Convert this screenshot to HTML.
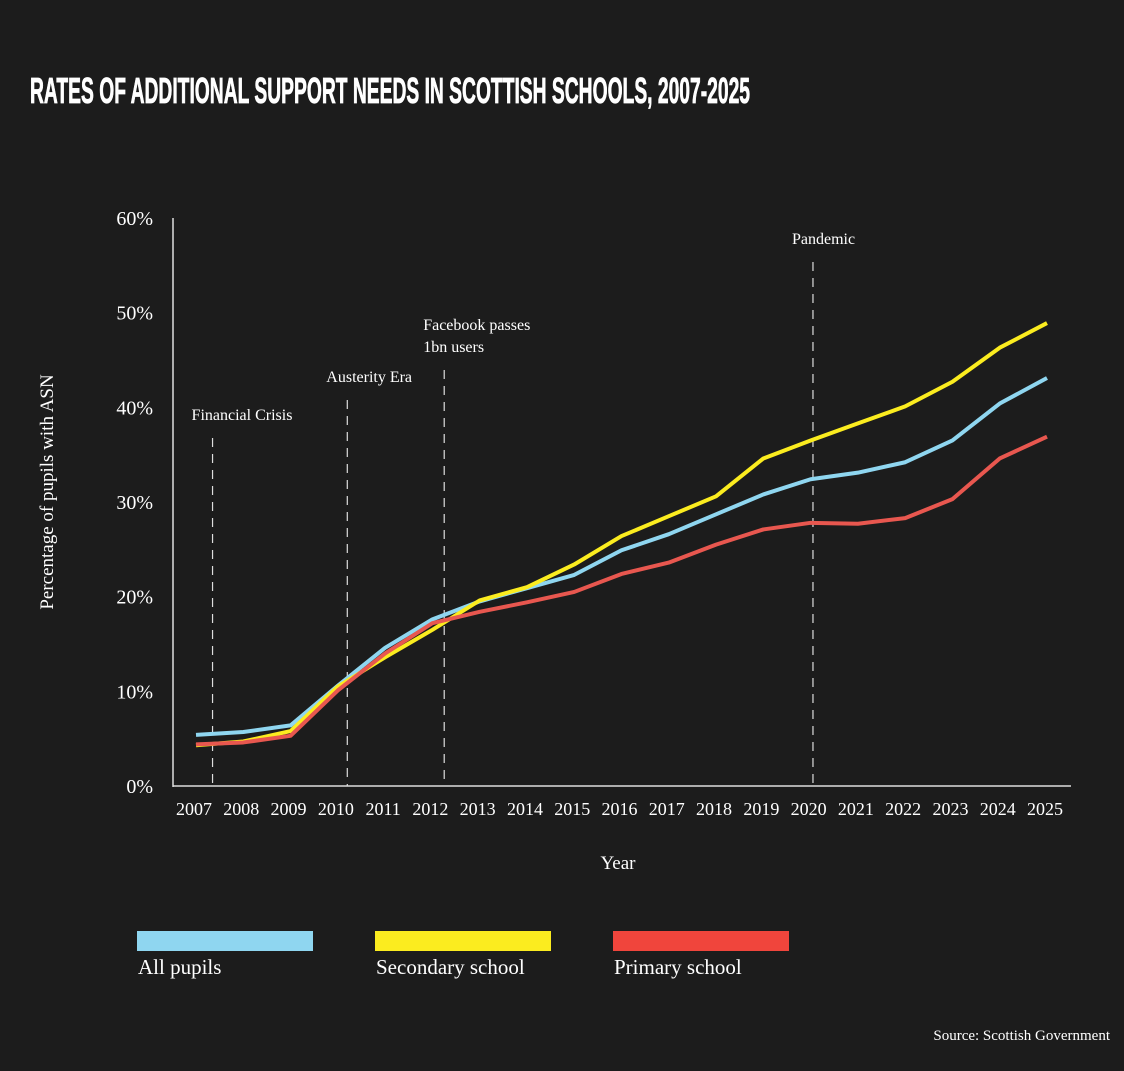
<!DOCTYPE html>
<html><head><meta charset="utf-8"><style>
body{margin:0;background:#1c1c1c;width:1124px;height:1071px;overflow:hidden}
svg{display:block}
.s{font-family:"Liberation Serif",serif;fill:#fff}
</style></head><body>
<svg id="c" width="1124" height="1071">
<rect width="1124" height="1071" fill="#1c1c1c"/>
<text x="30" y="103" font-family="Liberation Sans,sans-serif" font-weight="bold" font-size="36" fill="#fff" stroke="#fff" stroke-width="0.8" textLength="720" lengthAdjust="spacingAndGlyphs">RATES OF ADDITIONAL SUPPORT NEEDS IN SCOTTISH SCHOOLS, 2007-2025</text>
<g id="plot"></g>
<text class="s" x="618" y="869" font-size="19" text-anchor="middle">Year</text>
<text class="s" transform="translate(53,492) rotate(-90)" font-size="19" text-anchor="middle">Percentage of pupils with ASN</text>
<g>
<rect x="137" y="931" width="176" height="20" fill="#8fd6f0"/>
<text class="s" x="138" y="974" font-size="21">All pupils</text>
<rect x="375" y="931" width="176" height="20" fill="#fbec1f"/>
<text class="s" x="376" y="974" font-size="21">Secondary school</text>
<rect x="613" y="931" width="176" height="20" fill="#f0453c"/>
<text class="s" x="614" y="974" font-size="21">Primary school</text>
</g>
<text class="s" x="1110" y="1040" font-size="15" text-anchor="end">Source: Scottish Government</text>
</svg>
<script>
const years=[2007,2008,2009,2010,2011,2012,2013,2014,2015,2016,2017,2018,2019,2020,2021,2022,2023,2024,2025];
const allPupils=[5.4,5.7,6.4,10.6,14.6,17.6,19.5,20.9,22.3,24.9,26.6,28.7,30.8,32.4,33.1,34.2,36.5,40.4,43.1];
const secondary=[4.3,4.7,5.8,10.5,13.6,16.5,19.6,21.0,23.4,26.4,28.5,30.6,34.6,36.5,38.3,40.1,42.7,46.3,48.9];
const primary=[4.4,4.6,5.3,10.1,14.0,17.2,18.4,19.4,20.5,22.4,23.6,25.5,27.1,27.8,27.7,28.3,30.3,34.6,36.9];
const yTicks=[0,10,20,30,40,50,60];
const events=[{year:2007.35,label:["Financial Crisis"],top:438},{year:2010.2,label:["Austerity Era"],top:400},{year:2012.25,label:["Facebook passes","1bn users"],top:370},{year:2020.05,label:["Pandemic"],top:262}];
const NS="http://www.w3.org/2000/svg";
const g=document.getElementById('plot');
const x=v=>196+(v-2007)*(1047-196)/18;
const y=v=>786-v*(786-218)/60;
function el(t,a){const e=document.createElementNS(NS,t);for(const k in a)e.setAttribute(k,a[k]);g.appendChild(e);return e;}
let ax=el('line',{x1:173,y1:218,x2:173,y2:787,stroke:'#ddd','stroke-width':1.5});

ax=el('line',{x1:173,y1:786,x2:1071,y2:786,stroke:'#ddd','stroke-width':1.5});

yTicks.forEach(t=>{const e=el('text',{x:153,y:y(t)+7,'text-anchor':'end','font-size':20,class:'s'});e.textContent=t+'%';
});
years.forEach(t=>{const e=el('text',{x:x(t)-2,y:815,'text-anchor':'middle','font-size':18,class:'s'});e.textContent=t;
});
events.forEach(ev=>{const l=el('line',{x1:x(ev.year),y1:ev.top,x2:x(ev.year),y2:786,stroke:'#ddd','stroke-width':1.2,'stroke-dasharray':'9,7'});

ev.label.forEach((s,i)=>{const t=el('text',{x:x(ev.year)-21,y:ev.top-(ev.label.length-i)*22+4,'font-size':16,class:'s'});t.textContent=s;
});});
[[allPupils,'#8fd6f0','line-all-pupils'],[secondary,'#fbec1f','line-secondary'],[primary,'#e8574f','line-primary']].forEach(([d,c,n])=>{
const p=el('polyline',{points:d.map((v,i)=>x(years[i])+','+y(v)).join(' '),fill:'none',stroke:c,'stroke-width':4,'stroke-linejoin':'round'});
});
</script>
</body></html>
